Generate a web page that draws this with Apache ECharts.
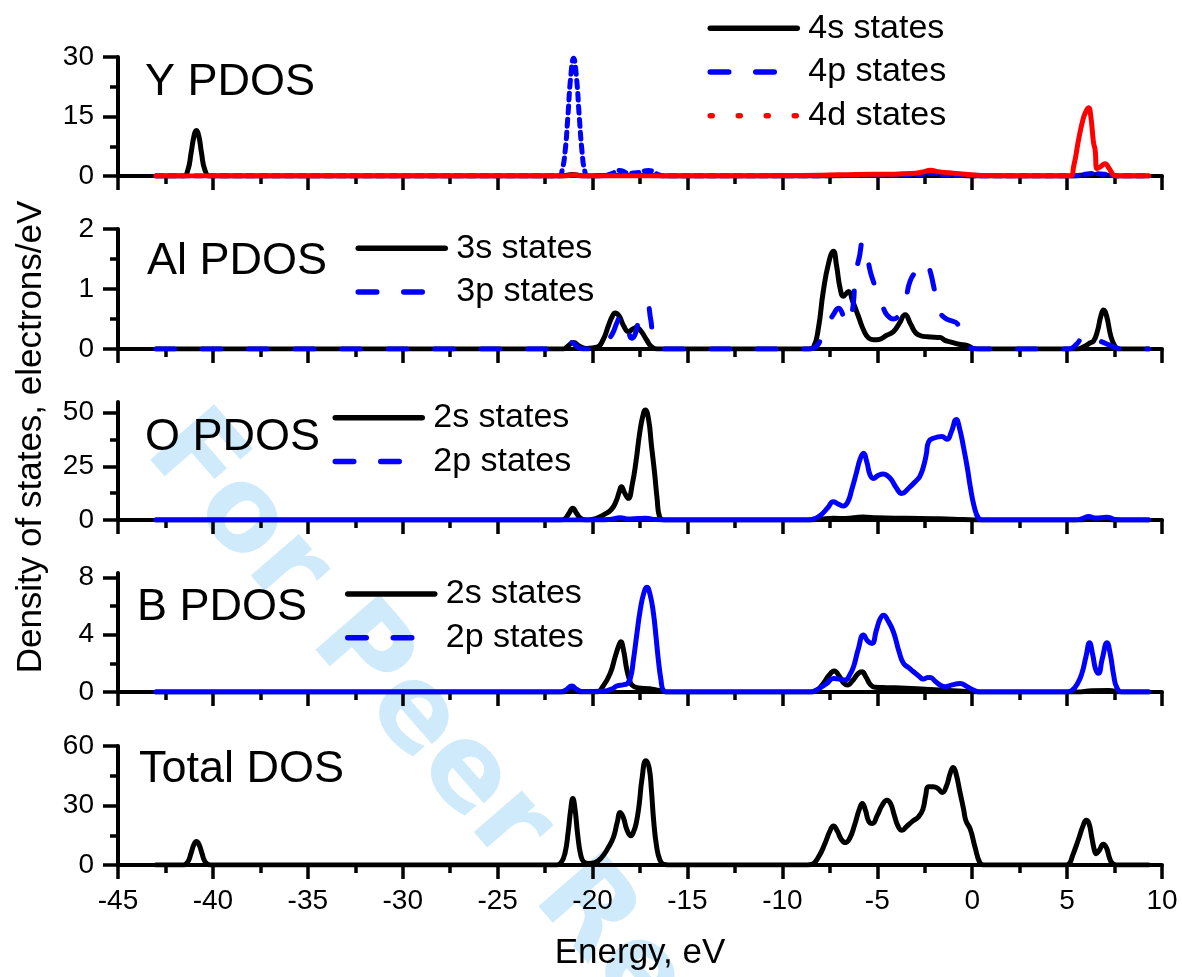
<!DOCTYPE html>
<html>
<head>
<meta charset="utf-8">
<script src="https://cdn.jsdelivr.net/npm/echarts@6/dist/echarts.min.js"></script>
<style>
  html, body { margin: 0; padding: 0; background: #ffffff; }
  #chart { width: 1182px; height: 977px; }
</style>
</head>
<body>
<div id="chart"></div>
<script>
// Projected densities of states, each point is [energy (eV), states per eV]

// Y atom
const y4s = [[-43,0],[-41.55,0],[-41.32,1.5],[-41.15,5.8],[-41.0,10],[-40.88,11.5],[-40.74,10],[-40.6,5.8],[-40.42,1.5],[-40.15,0],
  [-21.6,0],[-21.05,0.4],[-20.5,0],[-19,0.15],[-17,0.15],[-16,0],[-8,0],[-6,0.2],[-3,0.3],[-1,0.2],[0.5,0],
  [5.3,0],[6.2,0.4],[7.1,0.2],[7.6,0],[9.3,0]];
const y4p = [[-43,0],[-21.75,0],[-21.6,1.5],[-21.45,6],[-21.3,15],[-21.15,25],[-21.0,29.7],[-20.85,25],[-20.7,15],[-20.55,6],[-20.42,1.5],[-20.25,0],
  [-19.4,0.1],[-19.0,0.6],[-18.55,1.4],[-18.1,0.7],[-17.7,0.8],[-17.05,1.4],[-16.6,0.5],[-16.2,0],
  [-9,0],[-6,0.2],[-4,0.3],[-2.7,0.4],[-2.2,0.7],[-1.7,0.4],[-0.5,0.1],[0.5,0],
  [5.3,0],[5.9,0.4],[6.3,0.6],[6.8,0.5],[7.2,0.3],[7.6,0],[9.3,0]];
const y4d = [[-43,0],[-21.4,0],[-21.0,0.3],[-20.6,0],[-12,0],[-10,0.1],[-8,0.2],[-6,0.4],[-4.5,0.45],[-3.2,0.6],[-2.6,1.0],[-2.2,1.45],[-1.8,1.1],[-1.0,0.7],[-0.2,0.4],[0.8,0.1],[2,0],
  [5.16,0],[5.35,2.5],[5.6,9],[5.8,13.5],[5.95,15.8],[6.13,17.2],[6.25,15],[6.39,8.5],[6.48,6.5],[6.57,1.9],[6.75,2.3],[7.0,3.1],[7.2,2],[7.4,0.5],[7.53,0],[9.3,0]];

// Al atom
const al3s = [[-43,0],[-21.55,0],[-21.3,0.05],[-21.0,0.11],[-20.7,0.05],[-20.3,0.01],[-19.77,0.03],[-19.45,0.15],[-19.15,0.4],[-18.95,0.55],[-18.81,0.6],[-18.6,0.55],[-18.35,0.38],[-18.11,0.29],[-17.9,0.33],[-17.67,0.36],[-17.45,0.3],[-17.15,0.15],[-16.9,0.04],[-16.6,0],
  [-8.6,0],[-8.36,0.03],[-8.1,0.35],[-7.85,0.95],[-7.55,1.45],[-7.31,1.63],[-7.15,1.4],[-6.95,1.0],[-6.78,0.88],[-6.52,0.96],[-6.3,0.8],[-6.0,0.55],[-5.7,0.3],[-5.45,0.18],[-5.2,0.155],[-4.9,0.16],[-4.55,0.22],[-4.15,0.29],[-3.85,0.42],[-3.53,0.57],[-3.25,0.42],[-2.95,0.26],[-2.57,0.21],[-2.2,0.2],[-1.69,0.19],[-1.4,0.14],[-1.16,0.12],[-0.7,0.08],[-0.28,0.06],[0.07,0.01],[0.4,0],
  [5.5,0],[5.9,0.04],[6.2,0.1],[6.39,0.13],[6.6,0.3],[6.78,0.55],[6.92,0.65],[7.08,0.55],[7.3,0.22],[7.5,0.06],[7.71,0],[9.3,0]];
const al3p = [[-43,0],[-21.55,0],[-21.3,0.06],[-21.09,0.11],[-20.85,0.05],[-20.5,0],[-19.77,0],[-19.4,0.08],[-18.98,0.24],[-18.7,0.45],[-18.5,0.56],[-18.37,0.55],[-18.15,0.35],[-17.93,0.18],[-17.75,0.25],[-17.6,0.45],[-17.49,0.6],[-17.3,0.7],[-17.12,0.73],[-16.95,0.52],[-16.79,0.2],[-16.55,0.05],[-16.26,0],
  [-8.6,0],[-8.2,0.05],[-7.95,0.18],[-7.66,0.38],[-7.3,0.58],[-7.04,0.68],[-6.85,0.6],[-6.68,0.42],[-6.52,0.43],[-6.38,0.55],[-6.25,0.79],[-6.16,1.21],[-5.94,1.54],[-5.75,1.78],[-5.58,1.71],[-5.41,1.35],[-5.2,1.12],[-4.94,0.9],[-4.7,0.7],[-4.49,0.57],[-4.15,0.5],[-3.8,0.6],[-3.53,0.79],[-3.27,1.13],[-2.9,1.32],[-2.6,1.43],[-2.39,1.43],[-2.2,1.28],[-2.04,1.06],[-1.85,0.78],[-1.74,0.63],[-1.45,0.52],[-1.1,0.47],[-0.81,0.43],[-0.55,0.3],[-0.25,0.08],[0.16,0],
  [5.07,0],[5.5,0.08],[5.95,0.25],[6.3,0.2],[6.6,0.14],[6.83,0.12],[7.2,0.07],[7.6,0.02],[7.89,0],[9.3,0]];

// O atom
const o2s = [[-43,0],[-21.7,0],[-21.45,0.6],[-21.25,3],[-21.04,5.5],[-20.85,3.2],[-20.6,0.6],[-20.3,0],[-19.8,0.8],[-19.4,2.5],[-19.0,5],[-18.75,9],[-18.6,13],[-18.48,15.5],[-18.3,12.5],[-18.12,10.1],[-17.9,17],[-17.7,28],[-17.52,40.4],[-17.35,48.5],[-17.22,51.3],[-17.05,47],[-16.9,35],[-16.73,21.8],[-16.6,10],[-16.47,1.5],[-16.2,0],
  [-8.5,0],[-8.0,0.4],[-7.3,0.8],[-6.7,0.7],[-5.75,1.4],[-5.0,1.0],[-3.5,0.8],[-2,0.6],[-1.0,0.4],[0.2,0],[5.5,0],[6.2,0.3],[7.0,0.2],[7.6,0],[9.3,0]];
const o2p = [[-43,0],[-19.6,0],[-19.0,0.4],[-18.55,1.1],[-18.1,0.5],[-17.6,0.7],[-17.2,0.8],[-16.7,0.2],[-16.2,0],
  [-8.7,0],[-8.28,0.7],[-7.95,2.5],[-7.6,5.8],[-7.32,8.5],[-7.05,7.4],[-6.79,6.5],[-6.55,8.5],[-6.35,14],[-6.1,22],[-5.9,28.5],[-5.73,31.1],[-5.55,27],[-5.38,21],[-5.21,19.4],[-4.95,20.8],[-4.68,21.4],[-4.45,20.5],[-4.24,18.6],[-4.0,15],[-3.71,12.4],[-3.35,14.8],[-2.92,18.6],[-2.75,20.5],[-2.57,24.8],[-2.42,30.5],[-2.3,36.4],[-2.0,38.2],[-1.6,38.9],[-1.33,37.6],[-1.1,41],[-0.84,46.9],[-0.66,42.5],[-0.46,34.1],[-0.25,24],[-0.1,15.5],[0.1,6.5],[0.34,0.7],[0.55,0],
  [5.4,0],[5.8,0.6],[6.14,1.6],[6.45,0.9],[6.8,1.0],[7.11,1.3],[7.45,0.4],[7.8,0],[9.3,0]];

// B atom
const b2s = [[-43,0],[-21.6,0],[-21.1,0.15],[-20.6,0],[-19.77,0],[-19.45,0.4],[-19.07,1.3],[-18.8,2.5],[-18.6,3.3],[-18.51,3.5],[-18.38,3.0],[-18.19,1.53],[-18.05,0.85],[-17.93,0.49],[-17.6,0.28],[-17.0,0.22],[-16.5,0.1],[-16.1,0],
  [-8.55,0],[-8.27,0.05],[-7.9,0.5],[-7.55,1.15],[-7.27,1.46],[-7.0,1.1],[-6.78,0.65],[-6.57,0.49],[-6.3,0.8],[-6.0,1.3],[-5.81,1.41],[-5.6,1.05],[-5.35,0.5],[-5.11,0.33],[-4.5,0.3],[-3.5,0.27],[-2.5,0.2],[-1.5,0.13],[-0.5,0.06],[0.3,0],
  [5.5,0],[6.3,0.08],[7.2,0.1],[7.8,0],[9.3,0]];
const b2p = [[-43,0],[-21.7,0],[-21.4,0.15],[-21.09,0.42],[-20.85,0.2],[-20.5,0.03],[-19.5,0.05],[-19.0,0.2],[-18.72,0.42],[-18.4,0.5],[-18.19,0.56],[-18.0,1.0],[-17.85,2.2],[-17.68,3.9],[-17.49,5.7],[-17.3,6.9],[-17.14,7.3],[-16.97,6.8],[-16.79,5.47],[-16.66,3.9],[-16.53,2.2],[-16.4,0.9],[-16.26,0.1],[-16.0,0],
  [-8.6,0],[-8.36,0.05],[-8.0,0.3],[-7.66,0.6],[-7.31,0.95],[-7.0,0.9],[-6.69,0.83],[-6.45,1.2],[-6.25,1.76],[-6.0,3.0],[-5.73,3.97],[-5.5,3.55],[-5.28,3.39],[-5.05,4.3],[-4.85,5.1],[-4.67,5.36],[-4.45,5.0],[-4.15,4.2],[-3.85,2.8],[-3.62,2.0],[-3.35,1.7],[-3.09,1.41],[-2.8,1.1],[-2.57,0.9],[-2.38,1.0],[-2.21,1.02],[-1.95,0.75],[-1.65,0.45],[-1.42,0.37],[-1.05,0.5],[-0.63,0.6],[-0.3,0.4],[0.07,0.14],[0.4,0],
  [5.0,0],[5.25,0.1],[5.55,0.6],[5.78,1.3],[6.0,2.5],[6.18,3.43],[6.35,2.6],[6.5,1.6],[6.65,1.3],[6.85,2.3],[7.1,3.43],[7.28,2.6],[7.45,1.2],[7.62,0.3],[7.9,0],[9.3,0]];

// Total
const totalDos = [[-43,0],[-41.55,0],[-41.32,1.6],[-41.15,6],[-41.0,10.3],[-40.87,11.8],[-40.73,10.3],[-40.58,6],[-40.41,1.6],[-40.15,0],
  [-21.9,0],[-21.66,1.2],[-21.45,6],[-21.28,17],[-21.15,28],[-21.04,33.5],[-20.92,28],[-20.78,15],[-20.62,5],[-20.45,1.5],[-20.2,0.8],[-19.89,1.2],[-19.55,3.5],[-19.17,8.8],[-18.9,14],[-18.7,21.5],[-18.54,26.5],[-18.38,24],[-18.18,17.5],[-17.98,14.7],[-17.85,16.5],[-17.71,20.6],[-17.55,30],[-17.4,43],[-17.19,52.6],[-17.02,49],[-16.9,38],[-16.78,22.3],[-16.62,9],[-16.45,2.5],[-16.25,0.3],[-16.0,0],
  [-8.7,0],[-8.45,0.3],[-8.1,4],[-7.75,11],[-7.5,17],[-7.31,19.7],[-7.1,17],[-6.9,13],[-6.68,11.3],[-6.45,13.5],[-6.2,20],[-5.95,28],[-5.79,31],[-5.62,27.5],[-5.45,22],[-5.26,20.9],[-5.0,25],[-4.75,30],[-4.49,32.7],[-4.3,31],[-4.1,25],[-3.9,19.5],[-3.7,17.5],[-3.45,19.5],[-3.15,22],[-2.83,24.3],[-2.6,28],[-2.45,35],[-2.31,39.5],[-2.05,39.5],[-1.8,38.5],[-1.58,36.6],[-1.35,40],[-1.15,46.5],[-1.0,49.2],[-0.85,46],[-0.65,37],[-0.45,28],[-0.33,22.3],[-0.1,18],[0.15,9],[0.4,1.2],[0.6,0],
  [4.9,0],[5.07,0.3],[5.3,5],[5.6,13],[5.85,20],[6.01,22.6],[6.15,21],[6.3,14],[6.45,7],[6.53,5.7],[6.7,7.5],[6.91,10.5],[7.08,8.5],[7.22,4],[7.37,1],[7.6,0],[9.3,0]];

// Panel labels and value axes
const panelTitles = ['Y PDOS', 'Al PDOS', 'O PDOS', 'B PDOS', 'Total DOS'];
const yMax = [30, 2, 55, 8.3, 60];
const yMajorTicks = [[0, 15, 30], [0, 1, 2], [0, 25, 50], [0, 4, 8], [0, 30, 60]];
const yMinorTicks = [[7.5, 22.5], [0.5, 1.5], [12.5, 37.5], [2, 6], [15, 45]];
const energyMin = -45, energyMax = 10, energyStep = 5;

const FONT = '"Liberation Sans", Arial, Helvetica, sans-serif';
const BLACK = '#000000', BLUE = '#0000ff', RED = '#ff0000';
const LINE_W = 5;

const gridTops = [57, 229, 402, 573, 746];
const gridHeights = [119, 120, 118, 119, 119];

const grids = gridTops.map((t, i) => ({ left: 118, right: 20, top: t, height: gridHeights[i] }));

const xAxes = grids.map((g, i) => ({
  type: 'value', gridIndex: i, min: energyMin, max: energyMax, interval: energyStep,
  axisLine: { show: true, onZero: false, lineStyle: { color: BLACK, width: 4 } },
  axisTick: { show: true, length: 14, lineStyle: { color: BLACK, width: 3.5 } },
  minorTick: { show: true, splitNumber: 2, length: 8, lineStyle: { color: BLACK, width: 3.5 } },
  axisLabel: { show: i === 4, fontSize: 28, color: BLACK, fontFamily: FONT, margin: 22 },
  splitLine: { show: false }, minorSplitLine: { show: false }
}));

// each panel gets a labelled axis with major ticks and a bare companion axis carrying the minor ticks
const yAxes = [];
grids.forEach((g, i) => {
  const step = yMajorTicks[i][1] - yMajorTicks[i][0];
  yAxes.push({
    type: 'value', gridIndex: i, min: 0, max: yMax[i], interval: step, position: 'left',
    axisLine: { show: true, onZero: false, lineStyle: { color: BLACK, width: 4 } },
    axisTick: { show: true, length: 15, lineStyle: { color: BLACK, width: 3.5 }, customValues: yMajorTicks[i] },
    axisLabel: { fontSize: 28, color: BLACK, fontFamily: FONT, margin: 24, customValues: yMajorTicks[i] },
    splitLine: { show: false }
  });
  yAxes.push({
    type: 'value', gridIndex: i, min: 0, max: yMax[i], interval: step, position: 'left',
    axisLine: { show: false, onZero: false },
    axisTick: { show: true, length: 8, lineStyle: { color: BLACK, width: 3.5 }, customValues: yMinorTicks[i] },
    axisLabel: { show: false },
    splitLine: { show: false }
  });
});

function curve(name, data, panel, color, dash) {
  return {
    type: 'line', name: name, data: data,
    xAxisIndex: panel, yAxisIndex: panel * 2,
    symbol: 'none', smooth: 0.5,
    lineStyle: { color: color, width: LINE_W, type: dash || 'solid', cap: 'round', join: 'round' },
    itemStyle: { color: color },
    animation: false, silent: true
  };
}

const series = [
  curve('4s states', y4s, 0, BLACK),
  curve('4p states', y4p, 0, BLUE, [7, 6]),
  curve('4d states', y4d, 0, RED),
  curve('3s states', al3s, 1, BLACK),
  curve('3p states', al3p, 1, BLUE, [18.5, 28]),
  curve('2s states', o2s, 2, BLACK),
  curve('2p states', o2p, 2, BLUE),
  curve('2s states', b2s, 3, BLACK),
  curve('2p states', b2p, 3, BLUE),
  curve('Total DOS', totalDos, 4, BLACK)
];

const solidKey = { color: BLACK, width: 5.5, type: 'solid', cap: 'round' };
const dashKey = { color: BLUE, width: 5.5, type: [18.5, 27], cap: 'round' };
const dotKey = { color: RED, width: 5.5, type: [2, 26], cap: 'round' };

function legendBlock(left, top, items) {
  return {
    left: left, top: top, orient: 'vertical', padding: 0,
    itemWidth: 87, itemHeight: 20, itemGap: 9.7, selectedMode: false,
    itemStyle: { opacity: 0, borderWidth: 0 },
    textStyle: { fontSize: 34, color: BLACK, fontFamily: FONT, padding: [0, 0, 0, 6] },
    data: items
  };
}

const legends = [
  legendBlock(707.5, 11.3, [
    { name: '4s states', lineStyle: solidKey },
    { name: '4p states', lineStyle: dashKey },
    { name: '4d states', lineStyle: dotKey }
  ]),
  legendBlock(355.5, 231.3, [
    { name: '3s states', lineStyle: solidKey },
    { name: '3p states', lineStyle: dashKey }
  ]),
  legendBlock(332.5, 400.7, [
    { name: '2s states', lineStyle: solidKey },
    { name: '2p states', lineStyle: dashKey }
  ]),
  legendBlock(345, 577, [
    { name: '2s states', lineStyle: solidKey },
    { name: '2p states', lineStyle: dashKey }
  ])
];

const titleLefts = [145, 147, 145, 137, 139];
const titleCenters = [82.5, 262, 438, 608, 770];
const titles = panelTitles.map((t, i) => ({
  text: t, left: titleLefts[i], top: titleCenters[i] - 22.5, padding: 0,
  textStyle: { fontSize: 45, fontWeight: 'normal', color: BLACK, fontFamily: FONT }
}));

const chart = echarts.init(document.getElementById('chart'), null, { renderer: 'canvas' });
chart.setOption({
  animation: false,
  backgroundColor: '#ffffff',
  title: titles,
  legend: legends,
  grid: grids,
  xAxis: xAxes,
  yAxis: yAxes,
  series: series,
  graphic: [
    {
      type: 'text', x: 166, y: 432, rotation: -0.855, z: -10, silent: true,
      style: { text: 'For Peer Review', font: 'bold 116px "DejaVu Sans", Verdana, sans-serif', fill: '#cfeafb', align: 'left', verticalAlign: 'middle' }
    },
    {
      type: 'text', x: 31, y: 437, rotation: Math.PI / 2, silent: true,
      style: { text: 'Density of states, electrons/eV', font: '35px ' + FONT, fill: BLACK, align: 'center', verticalAlign: 'middle' }
    },
    {
      type: 'text', x: 640, y: 953, silent: true,
      style: { text: 'Energy, eV', font: '35px ' + FONT, fill: BLACK, align: 'center', verticalAlign: 'middle' }
    }
  ]
});
</script>
</body>
</html>
